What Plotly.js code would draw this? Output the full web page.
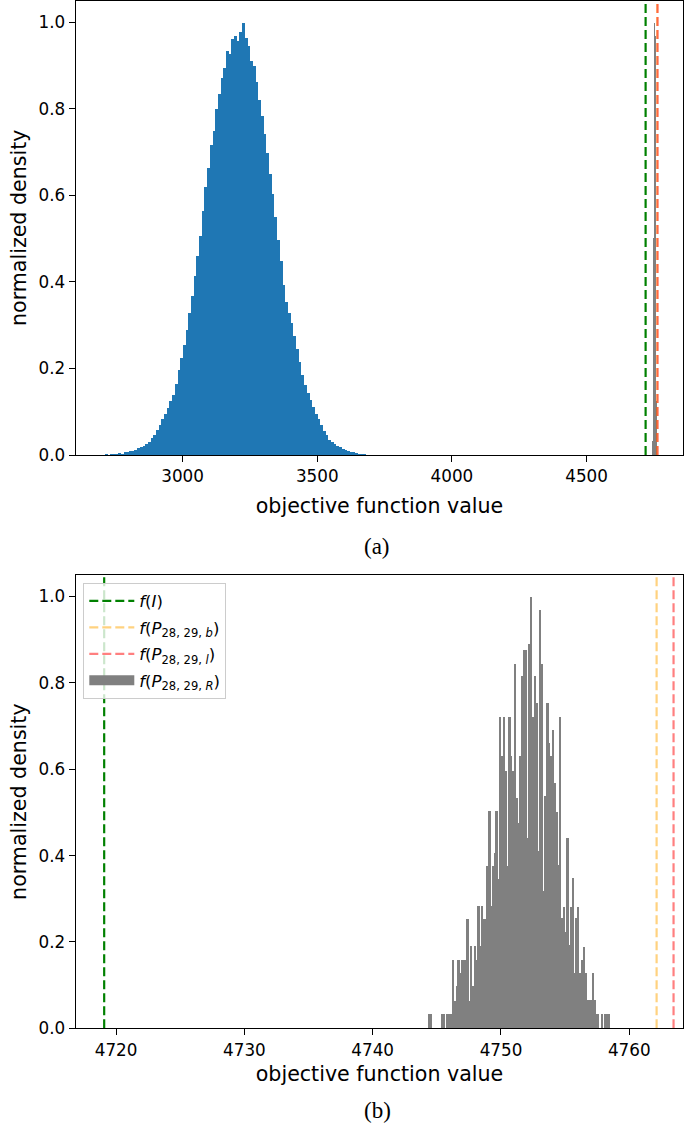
<!DOCTYPE html>
<html>
<head>
<meta charset="utf-8">
<script src="https://cdn.plot.ly/plotly-3.0.1.min.js"></script>
<style>html,body{margin:0;padding:0;background:#fff;}#chart{width:685px;height:1126px;}</style>
</head>
<body>
<div id="chart"></div>
<script>
// ---------- data ----------
// Panel (a): histogram of random objective values (bins of width 10 starting at 2710)
const blueBinStart = 2710;
const blueBinWidth = 10;
const blueHeights = [
  0.002, 0.000, 0.003, 0.002, 0.004, 0.005, 0.004, 0.007, 0.008, 0.010,
  0.011, 0.013, 0.017, 0.020, 0.022, 0.027, 0.032, 0.040, 0.048, 0.060,
  0.070, 0.085, 0.097, 0.110, 0.125, 0.140, 0.165, 0.198, 0.225, 0.255,
  0.290, 0.330, 0.368, 0.415, 0.462, 0.508, 0.565, 0.620, 0.665, 0.718,
  0.750, 0.800, 0.835, 0.872, 0.895, 0.935, 0.928, 0.962, 0.970, 0.958,
  0.978, 1.000, 0.965, 0.945, 0.912, 0.900, 0.862, 0.822, 0.785, 0.742,
  0.700, 0.650, 0.605, 0.552, 0.498, 0.450, 0.395, 0.355, 0.330, 0.305,
  0.275, 0.245, 0.215, 0.185, 0.162, 0.145, 0.128, 0.112, 0.096, 0.084,
  0.070, 0.057, 0.047, 0.036, 0.031, 0.026, 0.022, 0.019, 0.016, 0.013,
  0.010, 0.009, 0.007, 0.005, 0.004, 0.003, 0.002, 0.001
];
// Panel (b): histogram of f(P_28,29,R) (100 bins)
const grayBinStart = 4744.35;
const grayBinWidth = 0.1415;
const grayHeights = [
  0.033, 0.033, 0, 0, 0, 0, 0, 0.033, 0.033, 0,
  0.033, 0.033, 0.033, 0.158, 0.064, 0.097, 0.158, 0.127, 0.158, 0.158,
  0.158, 0.253, 0.064, 0.190, 0.097, 0.190, 0.158, 0.283, 0.190, 0.283,
  0.253, 0.253, 0.376, 0.503, 0.283, 0.376, 0.407, 0.503, 0.345, 0.722,
  0.630, 0.722, 0.595, 0.376, 0.722, 0.630, 0.595, 0.845, 0.533, 0.475,
  0.630, 0.815, 0.877, 0.877, 0.440, 0.890, 1.000, 0.720, 0.815, 0.753,
  0.410, 0.970, 0.845, 0.317, 0.537, 0.753, 0.660, 0.630, 0.690, 0.568,
  0.502, 0.378, 0.722, 0.255, 0.282, 0.224, 0.440, 0.193, 0.282, 0.348,
  0.127, 0.255, 0.282, 0.127, 0.158, 0.189, 0.127, 0.066, 0.066, 0.066,
  0.127, 0.066, 0.033, 0.033, 0, 0.033, 0, 0.033, 0.033, 0.033
];
// Reference objective values (vertical lines)
const fI = 4719.07;
const fPb = 4762.13;
const fPl = 4763.45;
// Tick values
const xTicksA = [3000, 3500, 4000, 4500];
const xTicksB = [4720, 4730, 4740, 4750, 4760];
const yTicks = [0, 0.2, 0.4, 0.6, 0.8, 1.0];
const yTickText = ['0.0', '0.2', '0.4', '0.6', '0.8', '1.0'];
// Labels
const xLabel = 'objective function value';
const yLabel = 'normalized density';
const legendNames = [
  '<i>f</i>(<i>I</i>)',
  '<i>f</i>(<i>P</i><sub>28, 29, <i>b</i></sub>)',
  '<i>f</i>(<i>P</i><sub>28, 29, <i>l</i></sub>)',
  '<i>f</i>(<i>P</i><sub>28, 29, <i>R</i></sub>)'
];

// ---------- build ----------
const centers = (start, w, arr) => arr.map((_, i) => start + (i + 0.5) * w);
const W = 685, H = 1126;
const font = 'DejaVu Sans, Liberation Sans, sans-serif';
const FS_TICK = 16.8;
const FS_LABEL = 20.6;
const FS_LEG = 16.5;
const GREEN = '#008000';
const ORANGE = 'rgba(255,165,0,0.5)';
const RED = 'rgba(255,0,0,0.5)';
const GRAY = '#808080';
const BLUE = '#1f77b4';
const dashSpec = '9px,4px';

function vline(x, color, xa, ya, name, show, grp) {
  return {type: 'scatter', mode: 'lines', x: [x, x], y: [0, 1.05], xaxis: xa, yaxis: ya,
    line: {color: color, width: 2.2, dash: dashSpec}, name: name, showlegend: show,
    legendgroup: grp, hoverinfo: 'skip'};
}

// In panel (a) the 100 gray bins fall within ~4 px; draw taller bins last so the envelope shows.
const grayX = centers(grayBinStart, grayBinWidth, grayHeights);
const order = grayHeights.map((_, i) => i).sort((a, b) => grayHeights[a] - grayHeights[b]);
const grayXsorted = order.map(i => grayX[i]);
const grayYsorted = order.map(i => grayHeights[i]);

const traces = [
  // panel a
  {type: 'bar', x: centers(blueBinStart, blueBinWidth, blueHeights), y: blueHeights,
   width: blueBinWidth, marker: {color: BLUE, line: {width: 0}}, xaxis: 'x', yaxis: 'y',
   showlegend: false, hoverinfo: 'skip'},
  vline(fI, GREEN, 'x', 'y', legendNames[0], false, 'ga'),
  {type: 'bar', x: grayXsorted, y: grayYsorted,
   width: grayBinWidth, marker: {color: GRAY, line: {width: 0}}, xaxis: 'x', yaxis: 'y',
   showlegend: false, hoverinfo: 'skip'},
  vline(fPb, ORANGE, 'x', 'y', legendNames[1], false, 'ga'),
  vline(fPl, RED, 'x', 'y', legendNames[2], false, 'ga'),
  // panel b
  vline(fI, GREEN, 'x2', 'y2', legendNames[0], true, 'g1'),
  vline(fPb, ORANGE, 'x2', 'y2', legendNames[1], true, 'g2'),
  vline(fPl, RED, 'x2', 'y2', legendNames[2], true, 'g3'),
  {type: 'bar', x: grayX, y: grayHeights,
   width: grayBinWidth, marker: {color: GRAY, line: {width: 0}}, xaxis: 'x2', yaxis: 'y2',
   name: legendNames[3], showlegend: false, legendgroup: 'g4', hoverinfo: 'skip'},
  // legend entry for the gray histogram (wide box like matplotlib)
  {type: 'scatter', mode: 'lines', x: [null], y: [null], xaxis: 'x2', yaxis: 'y2',
   line: {color: GRAY, width: 12}, name: legendNames[3], showlegend: true, legendgroup: 'g4'}
];

const xDom = [75.7 / W, 683.3 / W];
const axisCommon = {
  showline: true, mirror: true, linecolor: '#000', linewidth: 1.3,
  ticks: 'outside', ticklen: 6, tickwidth: 1.3, tickcolor: '#000',
  showgrid: false, zeroline: false, fixedrange: true,
  tickfont: {family: font, size: FS_TICK, color: '#000'}
};
const titleFont = {family: font, size: FS_LABEL, color: '#000'};
const layout = {
  width: W, height: H,
  margin: {l: 0, r: 0, t: 0, b: 0, pad: 0},
  paper_bgcolor: '#fff', plot_bgcolor: '#fff',
  barmode: 'overlay', bargap: 0,
  font: {family: font, size: FS_TICK, color: '#000'},
  xaxis: Object.assign({}, axisCommon, {
    domain: xDom, anchor: 'y', range: [2603, 4859], tickmode: 'array', tickvals: xTicksA,
    title: {text: xLabel, font: titleFont, standoff: 13}
  }),
  yaxis: Object.assign({}, axisCommon, {
    domain: [1 - 455 / H, 1 - 0.5 / H], anchor: 'x', range: [0, 1.05], tickmode: 'array',
    tickvals: yTicks, ticktext: yTickText,
    title: {text: yLabel, font: titleFont, standoff: 6}
  }),
  xaxis2: Object.assign({}, axisCommon, {
    domain: xDom, anchor: 'y2', range: [4716.85, 4764.21], tickmode: 'array', tickvals: xTicksB,
    title: {text: xLabel, font: titleFont, standoff: 7}
  }),
  yaxis2: Object.assign({}, axisCommon, {
    domain: [1 - 1028.3 / H, 1 - 575 / H], anchor: 'x2', range: [0, 1.05], tickmode: 'array',
    tickvals: yTicks, ticktext: yTickText,
    title: {text: yLabel, font: titleFont, standoff: 6}
  }),
  showlegend: true,
  hovermode: false,
  legend: {
    x: 83.3 / W, y: 1 - 582.7 / H, xanchor: 'left', yanchor: 'top',
    bgcolor: 'rgba(255,255,255,0.8)', bordercolor: '#cccccc', borderwidth: 1,
    font: {family: font, size: FS_LEG, color: '#000'}, itemwidth: 45, tracegroupgap: 2,
    traceorder: 'grouped', itemclick: false, itemdoubleclick: false
  },
  annotations: [
    {text: '(a)', xref: 'paper', yref: 'paper', x: 377 / W, y: 1 - 546 / H, showarrow: false,
     xanchor: 'center', yanchor: 'middle', font: {family: 'Liberation Serif, DejaVu Serif, serif', size: 23, color: '#000'}},
    {text: '(b)', xref: 'paper', yref: 'paper', x: 377 / W, y: 1 - 1110 / H, showarrow: false,
     xanchor: 'center', yanchor: 'middle', font: {family: 'Liberation Serif, DejaVu Serif, serif', size: 23, color: '#000'}}
  ]
};

Plotly.newPlot('chart', traces, layout, {displayModeBar: false, responsive: false});
</script>
</body>
</html>
